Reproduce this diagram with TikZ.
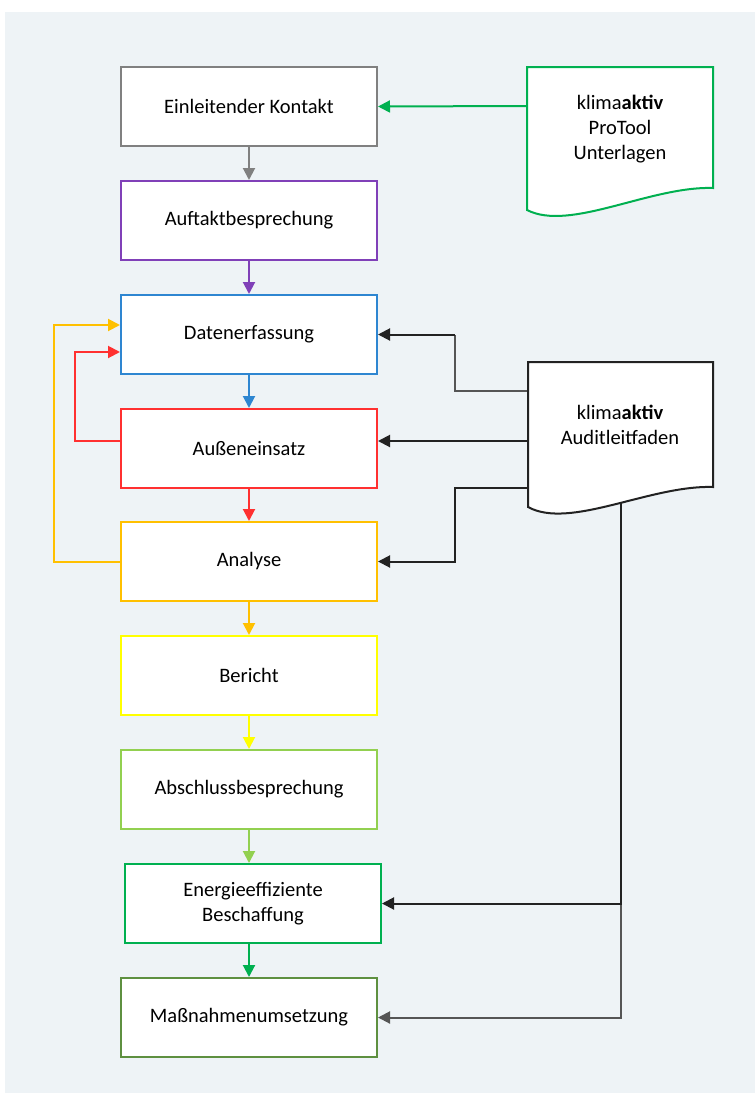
\documentclass[tikz,border=0pt]{standalone}
\usepackage{fontspec}
\setmainfont{Carlito}
\usetikzlibrary{arrows.meta,calc}
\definecolor{bgcol}{HTML}{EEF3F6}
\definecolor{cgray}{HTML}{808080}
\definecolor{cpurple}{HTML}{8040B8}
\definecolor{cblue}{HTML}{2E86D1}
\definecolor{cred}{HTML}{FF3030}
\definecolor{corange}{HTML}{FFC000}
\definecolor{cyellow}{HTML}{FFFF00}
\definecolor{clgreen}{HTML}{92D050}
\definecolor{cgreen}{HTML}{00B050}
\definecolor{cdgreen}{HTML}{5E9040}
\definecolor{cline}{HTML}{222222}
\definecolor{cline2}{HTML}{555555}

\begin{document}
\begin{tikzpicture}[x=1pt,y=-1pt,
    font=\fontsize{20.5}{25}\selectfont,
    box/.style={draw,fill=white,line width=2pt,minimum width=256pt,minimum height=79pt,inner sep=0pt,align=center},
    doc/.style={fill=white,line width=2pt},
    flow/.style={line width=2pt,-{Triangle[length=12pt,width=12pt]}}]
\useasboundingbox (0,0) rectangle (755,1095);
\fill[bgcol] (5,12) rectangle (755,1093);

\node[box,draw=cgray] (kontakt) at (249,106.5) {Einleitender Kontakt};
\node[box,draw=cpurple] (auftakt) at (249,220.5) {Auftaktbesprechung};
\node[box,draw=cblue] (daten) at (249,334.5) {Datenerfassung};
\node[box,draw=cred] (aussen) at (249,448.5) {Außeneinsatz};
\node[box,draw=corange] (analyse) at (249,561.5) {Analyse};
\node[box,draw=cyellow] (bericht) at (249,675.5) {Bericht};
\node[box,draw=clgreen] (abschluss) at (249,789.5) {Abschlussbesprechung};
\node[box,draw=cgreen] (beschaffung) at (253,903.5) {Energieeffiziente\\Beschaffung};
\node[box,draw=cdgreen] (umsetzung) at (249,1017.5) {Maßnahmenumsetzung};

\draw[flow,cgray] (kontakt) -- (auftakt);
\draw[flow,cpurple] (auftakt) -- (daten);
\draw[flow,cblue] (daten) -- (aussen);
\draw[flow,cred] (aussen) -- (analyse);
\draw[flow,corange] (analyse) -- (bericht);
\draw[flow,cyellow] (bericht) -- (abschluss);
\draw[flow,clgreen] (abschluss.south) -- (abschluss.south |- beschaffung.north);
\draw[flow,cgreen] (umsetzung.north |- beschaffung.south) -- (umsetzung.north);

\draw[flow,corange] (analyse.west) -- ++(-66,0) |- ($(daten.west)+(0,-9.5)$);
\draw[flow,cred] ($(aussen.west)+(0,-7.5)$) -- ++(-45,0) |- ($(daten.west)+(0,17.5)$);

\coordinate (pt) at (527,106);
\coordinate (a1) at (528,391);
\coordinate (a2) at (528,441);
\coordinate (a3) at (528,488);
\coordinate (a4) at (621,480);
\coordinate (j1) at (455,0);

\draw[flow,cgreen] (pt) -- (kontakt.east);
\draw[line width=2pt,cline2] (a1) -| (j1 |- daten.east);
\draw[flow,cline] (j1 |- daten.east) -- (daten.east);
\draw[flow,cline] (a2) -- (a2 -| aussen.east);
\draw[flow,cline] (a3) -| (j1 |- analyse.east) -- (analyse.east);
\draw[flow,cline2] (a4 |- beschaffung.east) |- (umsetzung.east);
\draw[flow,cline] (a4) |- (beschaffung.east);

\draw[doc,draw=cgreen] (527,67) -- (713,67) -- (713,188)
    .. controls (650,186) and (570,232) .. (527,210) -- cycle;
\draw[doc,draw=cline] (528,362) -- (713,362) -- (713,487)
    .. controls (650,485) and (570,530) .. (528,507) -- cycle;
\node[align=center] (protool) at (620,129) {klima\textbf{aktiv}\\ProTool\\Unterlagen};
\node[align=center] (audit) at (620,424.5) {klima\textbf{aktiv}\\Auditleitfaden};
\end{tikzpicture}
\end{document}
